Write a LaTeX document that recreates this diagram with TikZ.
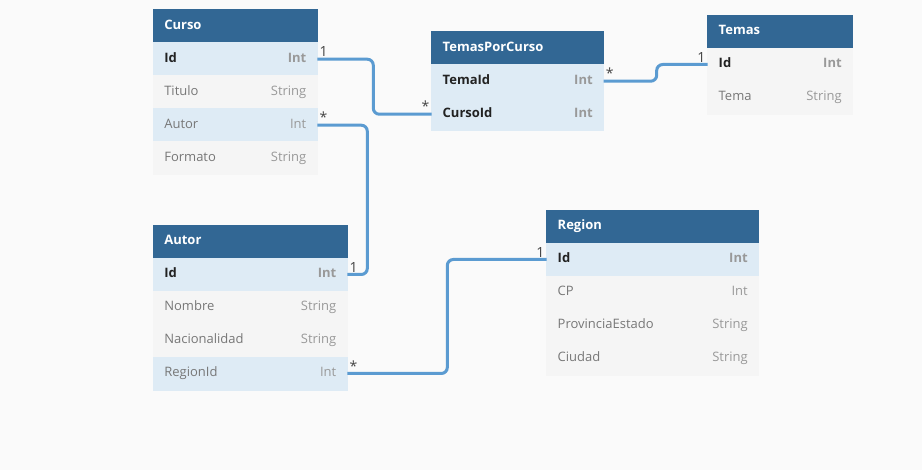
\documentclass[tikz,border=0pt]{standalone}
\usepackage{fontspec}
\setmainfont{Open Sans}
\usetikzlibrary{positioning}
\definecolor{bgcol}{HTML}{FAFAFA}
\definecolor{hdrcol}{HTML}{326794}
\definecolor{keyfill}{HTML}{DEEBF5}
\definecolor{plainfill}{HTML}{F5F5F5}
\definecolor{linkcol}{HTML}{5B9BD1}
\definecolor{keytxt}{HTML}{222222}
\definecolor{nametxt}{HTML}{777777}
\definecolor{typetxt}{HTML}{999999}
\definecolor{cardtxt}{HTML}{444444}
\newcommand{\keyfld}[2]{{\bfseries\color{keytxt}#1}\hfill{\bfseries\color{typetxt}#2}}
\newcommand{\plainfld}[2]{{\color{nametxt}#1}\hfill{\color{typetxt}#2}}
\tikzset{
    cell/.style={rectangle,inner xsep=8.25pt,inner ysep=0pt,minimum height=24.75pt,
        outer sep=0pt,line width=0.6pt,
        text height=7.5pt,text depth=2.5pt,font=\fontsize{9.75}{12}\selectfont},
    hdr/.style={cell,anchor=north west,fill=hdrcol,draw=hdrcol,text=white,
        font=\fontsize{9.75}{12}\selectfont\bfseries},
    rowb/.style={cell,fill=keyfill,draw=keyfill},
    rowg/.style={cell,fill=plainfill,draw=plainfill},
    link/.style={draw=linkcol,line width=2.25pt,rounded corners=4.5pt},
    card/.style={text=cardtxt,inner sep=1.5pt,font=\fontsize{10.5}{12}\selectfont},
}

\begin{document}
\begin{tikzpicture}[x=0.75pt,y=-0.75pt]

	\fill[bgcol] (0,0) rectangle (922,470);

	% Curso
	\begin{scope}[every node/.append style={text width=106.5pt}]
	\node[hdr] (cH) at (153.3,9.7) {Curso};
	\node[rowb,below=0pt of cH] (cId) {\keyfld{Id}{Int}};
	\node[rowg,below=0pt of cId] (cTitulo) {\plainfld{Titulo}{String}};
	\node[rowb,below=0pt of cTitulo] (cAutor) {\plainfld{Autor}{Int}};
	\node[rowg,below=0pt of cAutor] (cFormato) {\plainfld{Formato}{String}};
	\end{scope}

	% TemasPorCurso
	\begin{scope}[every node/.append style={text width=112.5pt}]
	\node[hdr] (tcH) at (431.7,31.7) {TemasPorCurso};
	\node[rowb,below=0pt of tcH] (tcTema) {\keyfld{TemaId}{Int}};
	\node[rowb,below=0pt of tcTema] (tcCurso) {\keyfld{CursoId}{Int}};
	\end{scope}

	% Temas
	\begin{scope}[every node/.append style={text width=92.25pt}]
	\node[hdr] (tH) at (707.7,15) {Temas};
	\node[rowg,below=0pt of tH] (tId) {\keyfld{Id}{Int}};
	\node[rowg,below=0pt of tId] (tTema) {\plainfld{Tema}{String}};
	\end{scope}

	% Autor
	\begin{scope}[every node/.append style={text width=129pt}]
	\node[hdr] (aH) at (153.3,225) {Autor};
	\node[rowb,below=0pt of aH] (aId) {\keyfld{Id}{Int}};
	\node[rowg,below=0pt of aId] (aNombre) {\plainfld{Nombre}{String}};
	\node[rowg,below=0pt of aNombre] (aNac) {\plainfld{Nacionalidad}{String}};
	\node[rowb,below=0pt of aNac] (aRegion) {\plainfld{RegionId}{Int}};
	\end{scope}

	% Region
	\begin{scope}[every node/.append style={text width=142.5pt}]
	\node[hdr] (rH) at (546.7,210) {Region};
	\node[rowb,below=0pt of rH] (rId) {\keyfld{Id}{Int}};
	\node[rowg,below=0pt of rId] (rCP) {\plainfld{CP}{Int}};
	\node[rowg,below=0pt of rCP] (rProv) {\plainfld{ProvinciaEstado}{String}};
	\node[rowg,below=0pt of rProv] (rCiudad) {\plainfld{Ciudad}{String}};
	\end{scope}

	% relaciones
	\draw[link] (cId.east) -- ++(56,0) |- (tcCurso.west);
	\draw[link] (cAutor.east) -- ++(50,0) |- (aId.east);
	\draw[link] (tcTema.east) -- ++(53,0) |- (tId.west);
	\draw[link] (aRegion.east) -- ++(100,0) |- (rId.west);

	\node[card,above right] at (cId.east) {1};
	\node[card,above left] at (tcCurso.west) {*};
	\node[card,above right] at (cAutor.east) {*};
	\node[card,above right] at (aId.east) {1};
	\node[card,above right] at (tcTema.east) {*};
	\node[card,above left] at (tId.west) {1};
	\node[card,above right] at (aRegion.east) {*};
	\node[card,above left] at (rId.west) {1};

\end{tikzpicture}
\end{document}
